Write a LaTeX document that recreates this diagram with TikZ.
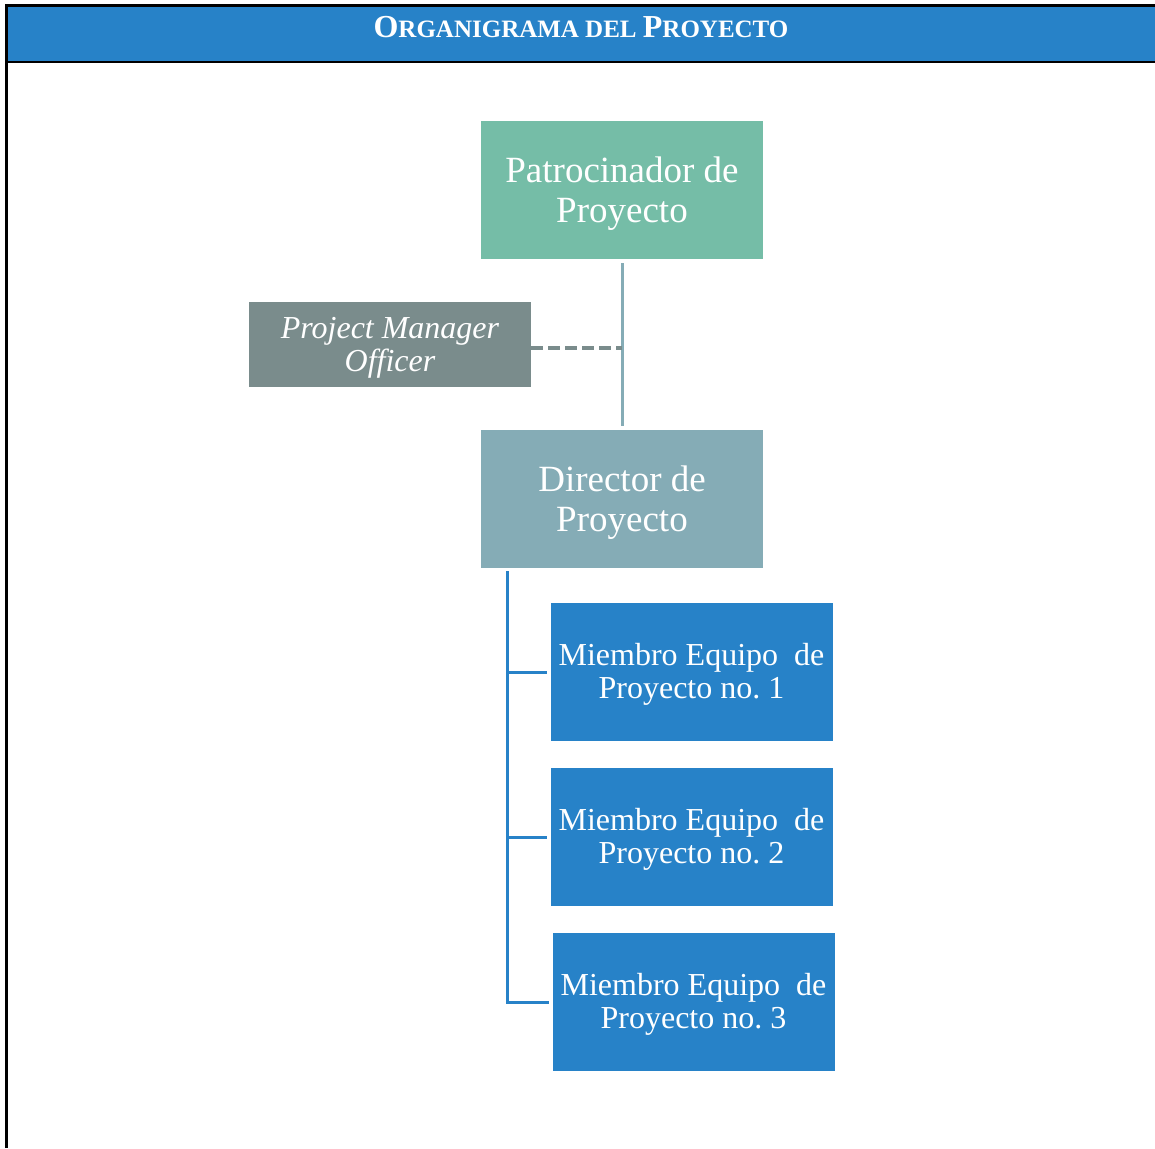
\documentclass[tikz,border=0pt]{standalone}
\usepackage{fontspec}
\setmainfont{Liberation Serif}
\definecolor{headblue}{HTML}{2782C8}
\definecolor{sponsorgreen}{HTML}{75BDA7}
\definecolor{pmogray}{HTML}{7A8C8C}
\definecolor{directorteal}{HTML}{85ACB6}
\definecolor{memberblue}{HTML}{2782C8}
% fake small capitals: full-size initials, reduced capitals for the rest
\newcommand{\titlecapA}[1]{{\fontsize{32}{34}\selectfont #1}}
\newcommand{\titlecapB}[1]{{\fontsize{25}{34}\selectfont #1}}
\tikzset{
  orgbox/.style={minimum width=282pt, inner sep=0pt},
  tallbox/.style={orgbox, minimum height=138pt},
  sponsorbox/.style={tallbox, fill=sponsorgreen},
  directorbox/.style={tallbox, fill=directorteal},
  memberbox/.style={tallbox, fill=memberblue},
  pmobox/.style={orgbox, minimum height=85pt, fill=pmogray},
  boxtext/.style={inner sep=0pt, align=center, text=white},
  bigtext/.style={boxtext, font=\fontsize{37}{40}\selectfont},
  membertext/.style={boxtext, font=\fontsize{32}{33}\selectfont},
  pmotext/.style={boxtext, font=\fontsize{32}{33}\selectfont\itshape},
  solidlink/.style={draw=directorteal, line width=3pt},
  dashlink/.style={draw=pmogray, line width=4pt, dash pattern=on 12pt off 5pt},
  memberlink/.style={draw=memberblue, line width=3pt},
}
\begin{document}
\begin{tikzpicture}[x=1pt, y=-1pt]
  \useasboundingbox (0,0) rectangle (1155,1148);
  % page frame and title band
  \fill[headblue] (7,7) rectangle (1155,61);
  \draw[line width=3pt] (6,1148) -- (6,6) -- (1155,6);
  \draw[line width=2pt] (6,61.5) -- (1155,61.5);
  \node[text=white, font=\bfseries, inner sep=0pt] (title) at (581,27)
    {\titlecapA{O}\titlecapB{RGANIGRAMA DEL }\titlecapA{P}\titlecapB{ROYECTO}};

  % organisation boxes
  \node[sponsorbox] (sponsor) at (622,190) {};
  \node[pmobox] (pmo) at (390,344.5) {};
  \node[directorbox] (director) at (622,499) {};
  \node[memberbox] (m1) at (691.5,672) {};
  \node[memberbox] (m2) at (691.5,837) {};
  \node[memberbox] (m3) at (693.5,1002) {};

  % box captions
  \node[bigtext] (sponsor-t) at ([yshift=-3.5pt]sponsor.center) {Patrocinador de\\Proyecto};
  \node[pmotext] (pmo-t) at ([yshift=-3pt]pmo.center) {Project Manager\\Officer};
  \node[bigtext] (director-t) at ([yshift=-3.5pt]director.center) {Director de\\Proyecto};
  \node[membertext] (m1-t) at ([yshift=-2.5pt]m1.center) {Miembro Equipo\ \ de\\Proyecto no.\ 1};
  \node[membertext] (m2-t) at ([yshift=-2.5pt]m2.center) {Miembro Equipo\ \ de\\Proyecto no.\ 2};
  \node[membertext] (m3-t) at ([yshift=-2.5pt]m3.center) {Miembro Equipo\ \ de\\Proyecto no.\ 3};

  % reporting lines
  \draw[solidlink] ([yshift=-4pt]sponsor.south) -- ([yshift=4pt]director.north);
  \draw[dashlink] ([yshift=-3.5pt]pmo.east) -- ([yshift=-3.5pt]pmo.east -| sponsor.south);
  \coordinate (trunk) at ([xshift=27pt,yshift=-3pt]director.south west);
  \draw[memberlink] (trunk) |- ([xshift=-3pt]m3.west);
  \draw[memberlink] (trunk |- m1.west) -- ([xshift=-3pt]m1.west);
  \draw[memberlink] (trunk |- m2.west) -- ([xshift=-3pt]m2.west);
\end{tikzpicture}
\end{document}
